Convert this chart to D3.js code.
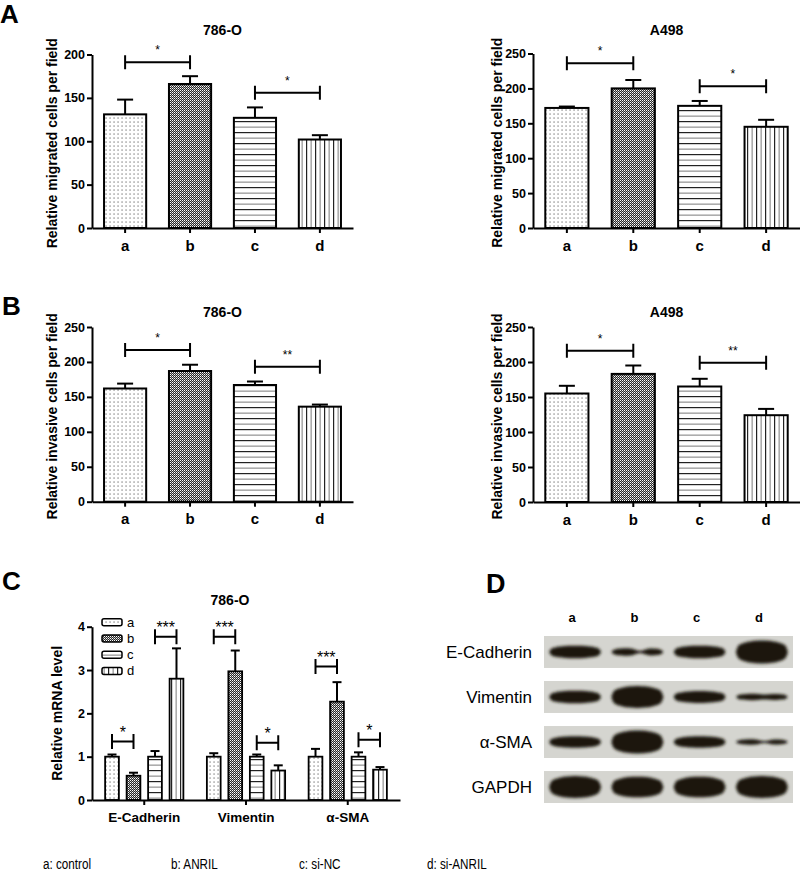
<!DOCTYPE html>
<html>
<head>
<meta charset="utf-8">
<script src="https://cdn.jsdelivr.net/npm/d3@7"></script>
<style>
  body { margin: 0; background: #fff; }
  text { font-family: "Liberation Sans", Arial, sans-serif; fill: #000; }
</style>
</head>
<body>
<svg id="fig" width="800" height="875"></svg>
<script>
// ---- data ----
const groups = ["a", "b", "c", "d"];

const migration786 = [131, 166, 127, 102];
const migration786Err = [17, 9, 12, 5];
const migrationA498 = [172, 200, 175, 145];
const migrationA498Err = [2, 12, 7, 10];

const invasion786 = [162, 187, 167, 136];
const invasion786Err = [7, 9, 5, 3];
const invasionA498 = [155, 183, 165, 124];
const invasionA498Err = [11, 12, 11, 9];

const ticks200 = [0, 50, 100, 150, 200];
const ticks250 = [0, 50, 100, 150, 200, 250];

const genes = ["E-Cadherin", "Vimentin", "α-SMA"];
const mrnaA = [1.0, 1.0, 1.0];
const mrnaAErr = [0.05, 0.08, 0.18];
const mrnaB = [0.56, 2.97, 2.27];
const mrnaBErr = [0.07, 0.48, 0.45];
const mrnaC = [1.0, 1.0, 1.0];
const mrnaCErr = [0.13, 0.05, 0.1];
const mrnaD = [2.8, 0.68, 0.7];
const mrnaDErr = [0.7, 0.12, 0.06];
const mrnaTicks = [0, 1, 2, 3, 4];

// significance brackets: [from, to, height, label]
const sigMigration786 = [["a", "b", 191, "*"], ["c", "d", 156, "*"]];
const sigMigrationA498 = [["a", "b", 236, "*"], ["c", "d", 203, "*"]];
const sigInvasion786 = [["a", "b", 217, "*"], ["c", "d", 193, "**"]];
const sigInvasionA498 = [["a", "b", 216, "*"], ["c", "d", 199, "**"]];
// [gene, from, to, height, label]
const sigMrna = [
  ["E-Cadherin", "a", "b", 1.35, "*"], ["E-Cadherin", "c", "d", 3.77, "***"],
  ["Vimentin", "a", "b", 3.77, "***"], ["Vimentin", "c", "d", 1.32, "*"],
  ["α-SMA", "a", "b", 3.08, "***"], ["α-SMA", "c", "d", 1.39, "*"]
];

// western blot relative band strength (0-1) and mid-band dip
const blotRows = ["E-Cadherin", "Vimentin", "α-SMA", "GAPDH"];
const eCadherinBlot = [0.55, 0.36, 0.55, 1.0];
const vimentinBlot = [0.55, 0.95, 0.52, 0.3];
const smaBlot = [0.5, 1.0, 0.5, 0.26];
const gapdhBlot = [0.95, 0.9, 0.9, 0.95];
const eCadherinDip = [0, 0.75, 0, 0];
const vimentinDip = [0, 0, 0, 0.3];
const smaDip = [0, 0, 0, 0.7];
const gapdhDip = [0, 0, 0, 0];

const legendLabels = ["a: control", "b: ANRIL", "c: si-NC", "d: si-ANRIL"];

// ---- setup ----
const svg = d3.select("#fig");
const defs = svg.append("defs");
const patId = { a: "pat-a", b: "pat-b", c: "pat-c", d: "pat-d" };

// a: dots
const pa = defs.append("pattern").attr("id", "pat-a").attr("patternUnits", "userSpaceOnUse")
  .attr("width", 4).attr("height", 4);
pa.append("rect").attr("width", 4).attr("height", 4).attr("fill", "#fff");
pa.append("rect").attr("x", 1.5).attr("y", 1.5).attr("width", 1.1).attr("height", 1.1).attr("fill", "#555");
// b: fine checker
const pb = defs.append("pattern").attr("id", "pat-b").attr("patternUnits", "userSpaceOnUse")
  .attr("width", 2).attr("height", 2);
pb.append("rect").attr("width", 2).attr("height", 2).attr("fill", "#2a2a2a");
pb.append("rect").attr("width", 1).attr("height", 1).attr("fill", "#fff");
pb.append("rect").attr("x", 1).attr("y", 1).attr("width", 1).attr("height", 1).attr("fill", "#aaa");
// c: horizontal lines
const pc = defs.append("pattern").attr("id", "pat-c").attr("patternUnits", "userSpaceOnUse")
  .attr("width", 8).attr("height", 11);
pc.append("rect").attr("width", 8).attr("height", 11).attr("fill", "#fff");
pc.append("rect").attr("y", 0).attr("width", 8).attr("height", 1.2).attr("fill", "#222");
pc.append("rect").attr("y", 5.5).attr("width", 8).attr("height", 1.3).attr("fill", "#999");
// d: vertical lines
const pd = defs.append("pattern").attr("id", "pat-d").attr("patternUnits", "userSpaceOnUse")
  .attr("width", 9).attr("height", 8);
pd.append("rect").attr("width", 9).attr("height", 8).attr("fill", "#fff");
pd.append("rect").attr("x", 0).attr("width", 1.2).attr("height", 8).attr("fill", "#222");
pd.append("rect").attr("x", 4.5).attr("width", 1.3).attr("height", 8).attr("fill", "#999");

defs.append("filter").attr("id", "blur").attr("x", "-20%").attr("y", "-60%")
  .attr("width", "140%").attr("height", "220%")
  .append("feGaussianBlur").attr("stdDeviation", 1.5);

function styleAxis(sel, size) {
  sel.selectAll("path, line").attr("stroke", "#000").attr("stroke-width", 2);
  sel.selectAll("text").attr("font-size", size).attr("font-weight", "bold").attr("fill", "#000");
}

function panelLetter(letter, x, y, size) {
  svg.append("text").attr("x", x).attr("y", y).attr("font-size", size || 26)
    .attr("font-weight", "bold").text(letter);
}

function bracket(g, xa, xb, yy, label, half, starSize, gap) {
  g.append("path")
    .attr("d", `M${xa},${yy - half}V${yy + half}M${xa},${yy}H${xb}M${xb},${yy - half}V${yy + half}`)
    .attr("fill", "none").attr("stroke", "#000").attr("stroke-width", 2);
  g.append("text").attr("x", (xa + xb) / 2).attr("y", yy - gap)
    .attr("text-anchor", "middle").attr("font-size", starSize).attr("fill", "#222").text(label);
}

// ---- panels A / B ----
function barPanel(cfg) {
  const g = svg.append("g");
  const x = d3.scaleBand().domain(groups).range([cfg.x0, cfg.x1])
    .paddingInner(0.32).paddingOuter(0.17);
  const y = d3.scaleLinear().domain([0, cfg.max]).range([cfg.yBase, cfg.yTop]);
  const bw = x.bandwidth();
  const rows = groups.map((k, i) => ({ k, v: cfg.values[i], e: cfg.errs[i] }));

  // error bars (upper only)
  const eb = g.append("g").attr("stroke", "#000").attr("stroke-width", 2);
  rows.forEach(d => {
    const cx = x(d.k) + bw / 2;
    eb.append("line").attr("x1", cx).attr("x2", cx).attr("y1", y(d.v)).attr("y2", y(d.v + d.e));
    eb.append("line").attr("x1", cx - 8).attr("x2", cx + 8).attr("y1", y(d.v + d.e)).attr("y2", y(d.v + d.e));
  });

  g.selectAll("rect.bar").data(rows).join("rect")
    .attr("class", "bar")
    .attr("x", d => x(d.k) + 1)
    .attr("y", d => y(d.v))
    .attr("width", bw - 2)
    .attr("height", d => cfg.yBase - y(d.v))
    .attr("fill", d => `url(#${patId[d.k]})`)
    .attr("stroke", "#000").attr("stroke-width", 2);

  cfg.sig.forEach(([a, b, h, lab]) => {
    bracket(g, x(a) + bw / 2, x(b) + bw / 2, y(h), lab, 7, 12, 8);
  });

  g.append("g").attr("transform", `translate(${cfg.x0},0)`)
    .call(d3.axisLeft(y).tickValues(cfg.ticks).tickSize(5).tickSizeOuter(0).tickPadding(2))
    .call(s => styleAxis(s, 12.5));
  g.append("g").attr("transform", `translate(0,${cfg.yBase})`)
    .call(d3.axisBottom(x).tickSize(5).tickSizeOuter(0).tickPadding(7))
    .call(s => styleAxis(s, 15));

  g.append("text").attr("x", (cfg.x0 + cfg.x1) / 2).attr("y", cfg.titleY)
    .attr("text-anchor", "middle").attr("font-size", 14).attr("font-weight", "bold").text(cfg.title);
  g.append("text")
    .attr("transform", `translate(${cfg.labelX},${(cfg.yBase + cfg.yTop) / 2 + 2}) rotate(-90)`)
    .attr("text-anchor", "middle").attr("dy", "0.35em")
    .attr("font-size", 14).attr("font-weight", "bold").text(cfg.ylabel);
}

panelLetter("A", 0, 23);
barPanel({ x0: 92, x1: 353, yBase: 228, yTop: 54.5, max: 200, ticks: ticks200,
  values: migration786, errs: migration786Err, sig: sigMigration786,
  title: "786-O", titleY: 35, ylabel: "Relative migrated cells per field", labelX: 52 });
barPanel({ x0: 533, x1: 800, yBase: 228, yTop: 53.5, max: 250, ticks: ticks250,
  values: migrationA498, errs: migrationA498Err, sig: sigMigrationA498,
  title: "A498", titleY: 35, ylabel: "Relative migrated cells per field", labelX: 497 });

panelLetter("B", 2, 315);
barPanel({ x0: 92, x1: 353, yBase: 501.7, yTop: 327, max: 250, ticks: ticks250,
  values: invasion786, errs: invasion786Err, sig: sigInvasion786,
  title: "786-O", titleY: 317, ylabel: "Relative invasive cells per field", labelX: 52 });
barPanel({ x0: 533, x1: 800, yBase: 502, yTop: 327, max: 250, ticks: ticks250,
  values: invasionA498, errs: invasionA498Err, sig: sigInvasionA498,
  title: "A498", titleY: 317, ylabel: "Relative invasive cells per field", labelX: 497 });

// ---- panel C ----
(function mrnaPanel() {
  const g = svg.append("g");
  const x0 = 92, x1 = 400, yBase = 800, yTop = 626.7;
  const gx = d3.scaleBand().domain(genes).range([x0, x1]).paddingInner(0.155).paddingOuter(0.091);
  const sx = d3.scaleBand().domain(groups).range([0, gx.bandwidth()]).paddingInner(0.36).paddingOuter(0.18);
  const y = d3.scaleLinear().domain([0, 4]).range([yBase, yTop]);
  const bw = sx.bandwidth();
  const series = { a: [mrnaA, mrnaAErr], b: [mrnaB, mrnaBErr], c: [mrnaC, mrnaCErr], d: [mrnaD, mrnaDErr] };
  const rows = [];
  genes.forEach((gene, gi) => groups.forEach(k => {
    rows.push({ gene, k, v: series[k][0][gi], e: series[k][1][gi] });
  }));
  const cxOf = (gene, k) => gx(gene) + sx(k) + bw / 2;

  const eb = g.append("g").attr("stroke", "#000").attr("stroke-width", 2);
  rows.forEach(d => {
    const cx = cxOf(d.gene, d.k);
    eb.append("line").attr("x1", cx).attr("x2", cx).attr("y1", y(d.v)).attr("y2", y(d.v + d.e));
    eb.append("line").attr("x1", cx - 4.5).attr("x2", cx + 4.5).attr("y1", y(d.v + d.e)).attr("y2", y(d.v + d.e));
  });

  g.selectAll("rect.bar").data(rows).join("rect")
    .attr("class", "bar")
    .attr("x", d => gx(d.gene) + sx(d.k))
    .attr("y", d => y(d.v))
    .attr("width", bw)
    .attr("height", d => yBase - y(d.v))
    .attr("fill", d => `url(#${patId[d.k]})`)
    .attr("stroke", "#000").attr("stroke-width", 1.8);

  sigMrna.forEach(([gene, a, b, h, lab]) => {
    bracket(g, cxOf(gene, a), cxOf(gene, b), y(h), lab, 7.5, 16, 4);
  });

  g.append("g").attr("transform", `translate(${x0},0)`)
    .call(d3.axisLeft(y).tickValues(mrnaTicks).tickFormat(d3.format("d"))
      .tickSize(5).tickSizeOuter(0).tickPadding(2))
    .call(s => styleAxis(s, 12.5));
  g.append("g").attr("transform", `translate(0,${yBase})`)
    .call(d3.axisBottom(gx).tickSize(5).tickSizeOuter(0).tickPadding(7))
    .call(s => styleAxis(s, 13.5));

  g.append("text").attr("x", 230).attr("y", 605).attr("text-anchor", "middle")
    .attr("font-size", 14).attr("font-weight", "bold").text("786-O");
  g.append("text").attr("transform", `translate(57,${(yBase + yTop) / 2}) rotate(-90)`)
    .attr("text-anchor", "middle").attr("dy", "0.35em")
    .attr("font-size", 14).attr("font-weight", "bold").text("Relative mRNA level");

  // legend
  const ly = d3.scaleBand().domain(groups).range([614, 679]);
  const lg = g.append("g");
  groups.forEach(k => {
    const cy = ly(k) + ly.bandwidth() / 2;
    lg.append("rect").attr("x", 102).attr("y", cy - 3.5).attr("width", 20).attr("height", 7)
      .attr("rx", 2).attr("fill", `url(#${patId[k]})`).attr("stroke", "#000").attr("stroke-width", 1.5);
    lg.append("text").attr("x", 127).attr("y", cy).attr("dy", "0.35em").attr("font-size", 13).text(k);
  });
})();
panelLetter("C", 2, 590);

// ---- panel D: western blot ----
(function blotPanel() {
  const g = svg.append("g");
  const lanes = d3.scaleBand().domain(groups).range([544, 793]).paddingInner(0.1).paddingOuter(0.05);
  const rowsY = d3.scaleBand().domain(blotRows).range([636, 803]).paddingInner(0.29);
  const thick = d3.scaleLinear().domain([0, 1]).range([0, 23]);
  const levels = [eCadherinBlot, vimentinBlot, smaBlot, gapdhBlot];
  const dips = [eCadherinDip, vimentinDip, smaDip, gapdhDip];
  const strip0 = 544, strip1 = 793;

  g.selectAll("text.lane").data(groups).join("text")
    .attr("class", "lane")
    .attr("x", d => lanes(d) + lanes.bandwidth() / 2 - 3)
    .attr("y", 617).attr("dy", "0.35em").attr("text-anchor", "middle")
    .attr("font-size", 13).attr("font-weight", "bold").text(d => d);

  const ts = d3.range(0, 1.0001, 1 / 30);
  const area = d3.area().curve(d3.curveBasis).x(p => p[0]).y0(p => p[1]).y1(p => p[2]);

  blotRows.forEach((row, ri) => {
    const top = rowsY(row), h = rowsY.bandwidth(), cy = top + h / 2;
    g.append("rect").attr("x", strip0).attr("y", top).attr("width", strip1 - strip0).attr("height", h)
      .attr("fill", "#d5d5d0");
    g.append("text").attr("x", 532).attr("y", cy).attr("dy", "0.35em").attr("text-anchor", "end")
      .attr("font-size", 17).text(row);
    groups.forEach((k, li) => {
      const T = thick(levels[ri][li]);
      const dip = dips[ri][li];
      const bx = lanes(k) + 2, bwid = lanes.bandwidth() - 4;
      const pts = ts.map(t => {
        const env = Math.pow(Math.sin(Math.PI * t), 0.3);
        const hole = 1 - dip * Math.exp(-Math.pow((t - 0.55) / 0.13, 2));
        const th = T * env * hole;
        return [bx + t * bwid, cy - th / 2, cy + th / 2];
      });
      g.append("path").attr("d", area(pts)).attr("fill", "#1a1310").attr("filter", "url(#blur)");
    });
  });
})();
panelLetter("D", 486, 593, 27);

// ---- bottom key (condensed sans) ----
const keyX = d3.scaleLinear().domain([0, legendLabels.length - 1]).range([43, 427]);
svg.append("g").selectAll("text").data(legendLabels).join("text")
  .attr("transform", (d, i) => `translate(${keyX(i)},869) scale(0.78,1)`)
  .attr("font-size", 15).text(d => d);
</script>
</body>
</html>
